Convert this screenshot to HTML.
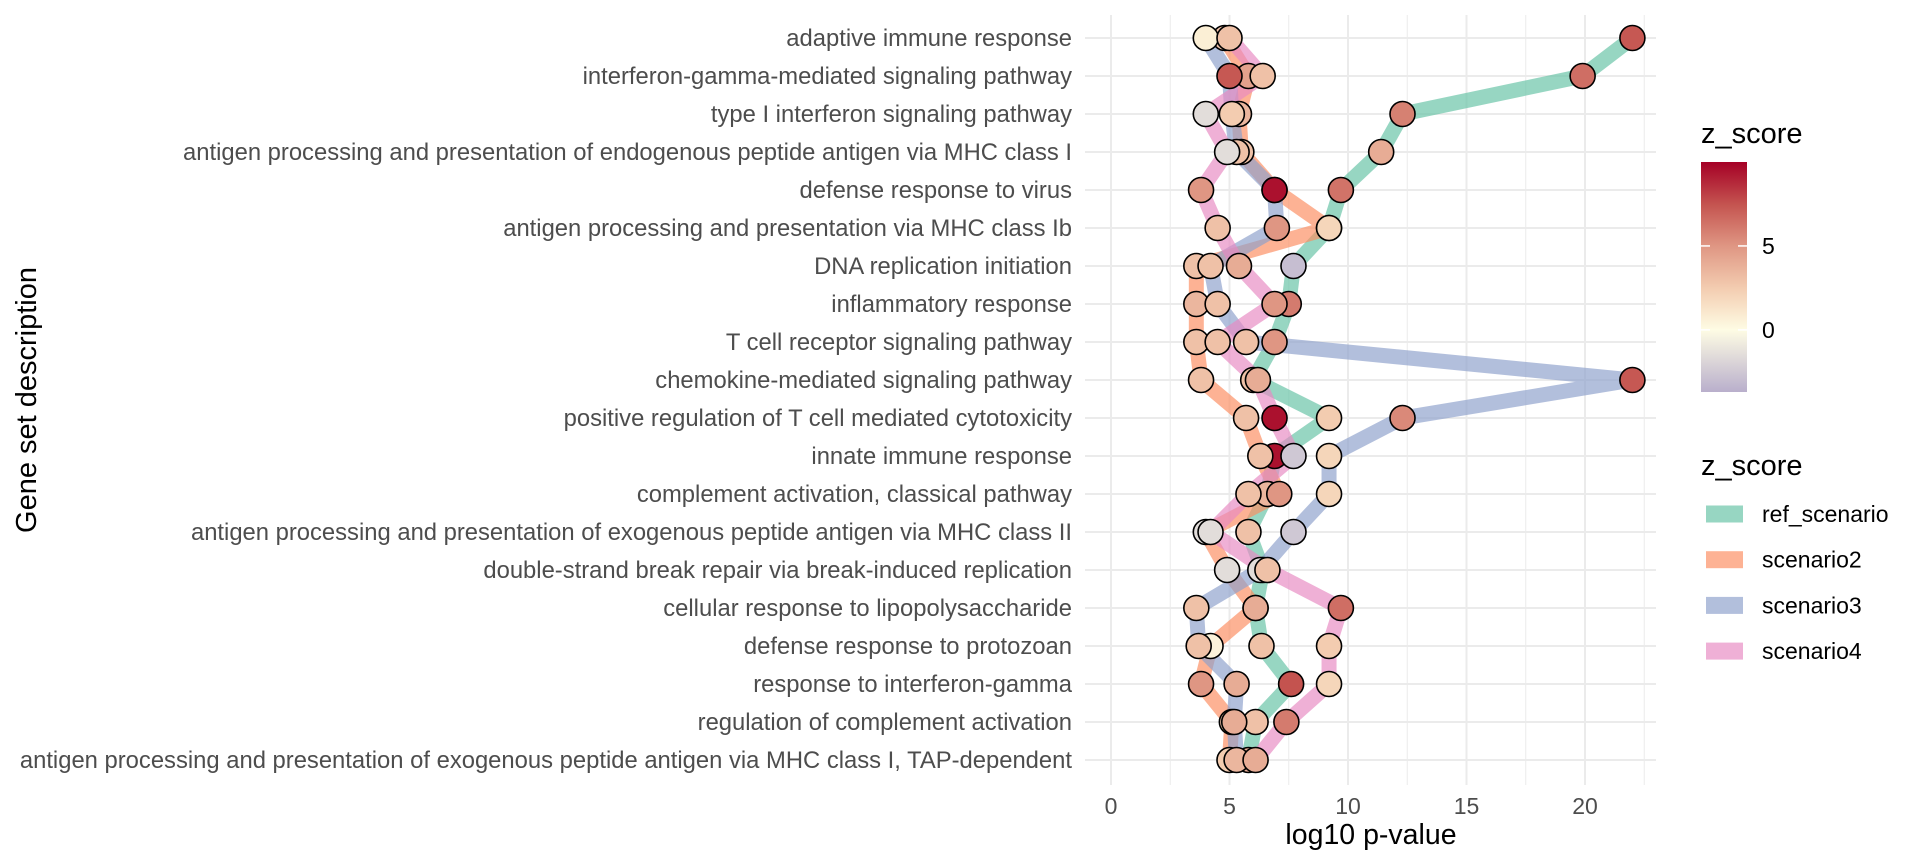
<!DOCTYPE html>
<html><head><meta charset="utf-8"><style>
html,body{margin:0;padding:0;background:#fff;}
svg{display:block;font-family:"Liberation Sans",Arial,sans-serif;}
</style></head><body>
<svg id="chart" width="1920" height="865" viewBox="0 0 1920 865"></svg>
<script>
const categories=["adaptive immune response","interferon-gamma-mediated signaling pathway","type I interferon signaling pathway","antigen processing and presentation of endogenous peptide antigen via MHC class I","defense response to virus","antigen processing and presentation via MHC class Ib","DNA replication initiation","inflammatory response","T cell receptor signaling pathway","chemokine-mediated signaling pathway","positive regulation of T cell mediated cytotoxicity","innate immune response","complement activation, classical pathway","antigen processing and presentation of exogenous peptide antigen via MHC class II","double-strand break repair via break-induced replication","cellular response to lipopolysaccharide","defense response to protozoan","response to interferon-gamma","regulation of complement activation","antigen processing and presentation of exogenous peptide antigen via MHC class I, TAP-dependent"];
const seriesNames=["ref_scenario","scenario2","scenario3","scenario4"];
const refValues=[22,19.9,12.3,11.4,9.7,9.2,7.7,7.5,6.9,6.0,9.2,6.9,6.6,5.8,6.4,6.1,6.35,7.6,6.1,5.8];
const s2Values=[4.8,5.8,5.4,5.5,6.9,9.2,3.6,3.6,3.6,3.8,5.7,6.3,7.1,4.0,4.9,6.1,4.2,3.8,5.1,5.0];
const s3Values=[4.0,5.0,5.1,5.3,6.9,7.0,4.2,4.5,5.7,22,12.3,9.2,9.2,7.7,6.3,3.6,3.7,5.3,5.2,5.3];
const s4Values=[5.0,6.4,4.0,4.9,3.8,4.5,5.4,6.9,4.5,6.2,6.9,7.7,5.8,4.2,6.6,9.7,9.2,9.2,7.4,6.1];
const refZ=[7.3,6.5,5.8,4,6.3,2,-3,6,5,3,2.5,9.5,3.5,3,3,4,3,7.5,3,4];
const s2Z=[3,4.5,3.5,3,9.5,2,3,3.5,3,3,3,3,5,-1.5,-1.5,4,0.5,5,3,2.5];
const s3Z=[0.7,7.3,2.5,3,9.5,5,3,3,3,7.3,5.5,2,2,-2.5,-1.5,3,3,4,4,3.5];
const s4Z=[3,3,-1.5,-1.5,5,3,4,5,3,4,9.5,-2.5,3,-1.5,3,6.5,2.5,2,6,4];
const xTicks=[0,5,10,15,20];
const colorTicks=[0,5];

const NS="http://www.w3.org/2000/svg";
const svg=document.getElementById('chart');
function mk(tag,attrs,parent){const e=document.createElementNS(NS,tag);for(const k in attrs)e.setAttribute(k,attrs[k]);(parent||svg).appendChild(e);return e;}
const X0=1111,XU=23.7;
function xs(v){return X0+v*XU;}
function ys(i){return 38+i*38.0;}
const PL=1085,PR=1656,PT=15,PB=785;
const stops=[[-3.7,[185,175,204]],[0,[254,252,228]],[2.5,[243,204,176]],[5,[223,150,131]],[7.5,[196,83,79]],[10,[165,0,38]]];
function zcol(z){if(z<=stops[0][0])return `rgb(${stops[0][1]})`;for(let i=1;i<stops.length;i++){if(z<=stops[i][0]){const a=stops[i-1],b=stops[i];const t=(z-a[0])/(b[0]-a[0]);const c=a[1].map((v,j)=>Math.round(v+(b[1][j]-v)*t));return `rgb(${c})`;}}return `rgb(${stops[stops.length-1][1]})`;}

const grid=mk('g',{});


for(let v=0;v<=22.5;v+=2.5){mk('line',{x1:xs(v),x2:xs(v),y1:PT,y2:PB,stroke:'#ebebeb','stroke-width':v%5===0?2:1},grid);}
categories.forEach((c,i)=>{mk('line',{x1:PL,x2:PR,y1:ys(i),y2:ys(i),stroke:'#ebebeb','stroke-width':2},grid);});

const yl=mk('g',{});


categories.forEach((c,i)=>{const t=mk('text',{x:1072,y:ys(i)+8,'text-anchor':'end','font-size':23.8,fill:'#4d4d4d'},yl);t.textContent=c;

});

const xl=mk('g',{});


xTicks.forEach(v=>{const t=mk('text',{x:xs(v),y:814,'text-anchor':'middle','font-size':23,fill:'#4d4d4d'},xl);t.textContent=v;

});
const xt=mk('text',{x:1371,y:844,'text-anchor':'middle','font-size':28.5,fill:'#000'});xt.textContent='log10 p-value';


const yt=mk('text',{x:0,y:0,transform:'translate(36,400) rotate(-90)','text-anchor':'middle','font-size':29,fill:'#000'});yt.textContent='Gene set description';



const vals=[refValues,s2Values,s3Values,s4Values];
const zs=[refZ,s2Z,s3Z,s4Z];
const lineCols=['#66c2a5','#fc8d62','#8da0cb','#e78ac3'];
vals.forEach((arr,s)=>{const p=mk('polyline',{points:arr.map((v,i)=>xs(v)+','+ys(i)).join(' '),fill:'none',stroke:lineCols[s],'stroke-opacity':0.68,'stroke-width':15,'stroke-linejoin':'round'});

});
vals.forEach((arr,s)=>{arr.forEach((v,i)=>{const c=mk('circle',{cx:xs(v),cy:ys(i),r:12.5,fill:zcol(zs[s][i]),stroke:'#000','stroke-width':1.6});

});});

const defs=mk('defs',{});
const lg=mk('linearGradient',{id:'zg',x1:0,y1:1,x2:0,y2:0},defs);
const zmin=-3.7,zmax=10;
stops.forEach(s=>{mk('stop',{offset:(s[0]-zmin)/(zmax-zmin),'stop-color':`rgb(${s[1]})`},lg);});
const ct=mk('text',{x:1701,y:143,'font-size':29,fill:'#000'});ct.textContent='z_score';


const cb=mk('rect',{x:1701,y:162,width:46,height:230,fill:'url(#zg)'});


function cy(z){return 392-(z-zmin)/(zmax-zmin)*230;}
colorTicks.forEach(z=>{mk('line',{x1:1701,x2:1710,y1:cy(z),y2:cy(z),stroke:'#fff','stroke-width':1.5});mk('line',{x1:1738,x2:1747,y1:cy(z),y2:cy(z),stroke:'#fff','stroke-width':1.5});
const t=mk('text',{x:1762,y:cy(z)+8,'font-size':23,fill:'#000'});t.textContent=z;

});

const lt=mk('text',{x:1701,y:475,'font-size':29,fill:'#000'});lt.textContent='z_score';


seriesNames.forEach((n,i)=>{const y=514+i*45.7;
const r=mk('rect',{x:1706,y:y-8.5,width:37,height:17,fill:lineCols[i],'fill-opacity':0.68});


const t=mk('text',{x:1762,y:y+8,'font-size':23,fill:'#000'});t.textContent=n;

});
</script>
</body></html>
